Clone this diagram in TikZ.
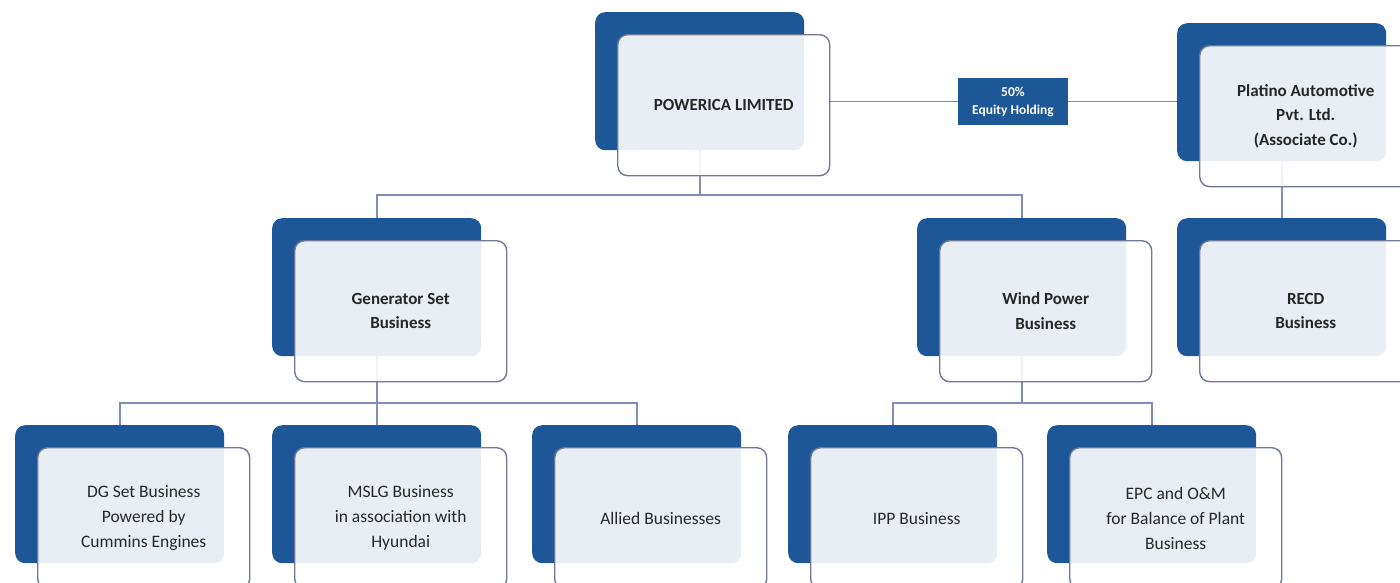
\documentclass[tikz,border=0pt]{standalone}
\usepackage{fontspec}
\setmainfont{Carlito}
\pgfdeclarelayer{bg}
\pgfsetlayers{bg,main}
\definecolor{dkblue}{RGB}{29,87,151}
\definecolor{bordergray}{RGB}{112,122,150}
\definecolor{linecol}{RGB}{128,142,184}
\definecolor{txtgray}{RGB}{40,40,40}
\tikzset{
  backbox/.style={draw=none, fill=dkblue, rounded corners=10pt, minimum width=209pt, minimum height=138pt, inner sep=0pt, anchor=north west},
  frontbox/.style={draw=bordergray, line width=1.4pt, fill=white, fill opacity=0.9, text opacity=1, rounded corners=10pt, minimum width=212pt, minimum height=141pt, inner sep=0pt, anchor=north west, align=center, text=txtgray, font=\fontsize{17.5}{25}\selectfont},
  topfont/.style={font=\bfseries\fontsize{17}{24.5}\selectfont, text=black!85},
  eqbox/.style={fill=dkblue, minimum width=110pt, minimum height=47pt, inner sep=0pt, align=center, text=white, font=\bfseries\fontsize{13.5}{18}\selectfont},
  link/.style={draw=linecol, line width=1.6pt},
}
\newcommand\orgbox[5][]{%
  \node[backbox] (#2D) at (#3,#4) {};
  \node[frontbox,#1] (#2) at (#3+22,#4+22) {#5};
}
\begin{document}
\begin{tikzpicture}[x=1pt,y=-1pt]
\useasboundingbox (0,0) rectangle (1400,582);

\orgbox[topfont]{pw}{595}{12}{POWERICA LIMITED}
\orgbox[topfont]{plat}{1177}{23}{Platino Automotive\\Pvt. Ltd.\\(Associate Co.)}
\orgbox[topfont]{gen}{272}{218}{Generator Set\\Business}
\orgbox[topfont]{wind}{917}{218}{Wind Power\\Business}
\orgbox[topfont]{recd}{1177}{218}{RECD\\Business}
\orgbox{dg}{15}{425}{DG Set Business\\Powered by\\Cummins Engines}
\orgbox{ms}{272}{425}{MSLG Business\\in association with\\Hyundai}
\orgbox{al}{532}{425}{Allied Businesses}
\orgbox{ipp}{788}{425}{IPP Business}
\orgbox{epc}{1047}{425}{EPC and O\&M\\for Balance of Plant\\Business}

\node[eqbox] (eq) at (1013,101.5) {50\%\\Equity Holding};

\coordinate (busA) at (0,195);
\coordinate (busB) at (0,403);
\begin{pgfonlayer}{bg}
  \draw[link] (pwD.south) -- (pwD.south |- busA);
  \draw[link] (genD.north) |- (pwD.south |- busA) -| (windD.north);
  \draw[link] (eq.west) -- (eq.west -| pw.east);
  \draw[link] (eq.east) -- (eq.east -| platD.west);
  \draw[link] (platD.south) -- (recdD.north);
  \draw[link] (genD.south) -- (genD.south |- busB);
  \draw[link] (dgD.north) |- (genD.south |- busB) -| (alD.north);
  \draw[link] (msD.north) -- (msD.north |- busB);
  \draw[link] (windD.south) -- (windD.south |- busB);
  \draw[link] (ippD.north) |- (windD.south |- busB) -| (epcD.north);
\end{pgfonlayer}
\end{tikzpicture}
\end{document}
